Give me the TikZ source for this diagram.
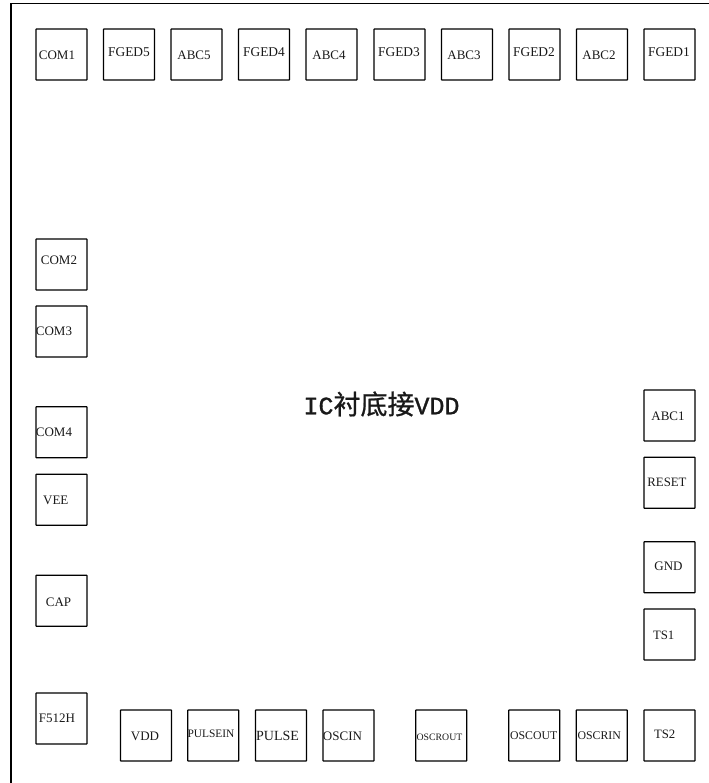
\documentclass[tikz,border=0pt]{standalone}
\usepackage{fontspec}
\setmainfont{Liberation Serif}
\newfontfamily\cjk[FakeBold=0.8]{Noto Sans CJK SC}
\newfontfamily\mono[FakeBold=1.2]{Liberation Mono}
\newcommand{\szfont}[1]{\pgfmathsetmacro{\ptsz}{#1*0.75}\fontsize{\ptsz pt}{\ptsz pt}\selectfont}
\tikzset{
  pinbox/.style={draw=black, line width=0.95pt, minimum width=38.25pt, minimum height=38.25pt, inner sep=0pt, outer sep=0pt, rounded corners=0.4pt, anchor=north west},
  pinlab/.style={inner sep=0pt, outer sep=0pt, text=black!90, anchor=center},
}
\begin{document}
\begin{tikzpicture}[x=0.75pt,y=-0.75pt]
\useasboundingbox (0,0) rectangle (708,783);
\draw[line width=0.95pt] (11,790) -- (11,3.7) -- (720,3.7);
\foreach \n/\x/\y/\t/\tx/\ty/\s in {
 com1/36/29/COM1/57/55/13,
 fgedv/103.5/29/FGED5/129/52.5/13.4,
 abcv/171/29/ABC5/194/55/13,
 fgediv/238.5/29/FGED4/264/52.5/13.4,
 abciv/306/29/ABC4/329/55/13,
 fgediii/374/29/FGED3/399/52.5/13.4,
 abciii/441.5/29/ABC3/464/55/13,
 fgedii/509/29/FGED2/534/52.5/13.4,
 abcii/576.5/29/ABC2/599/55/13,
 fgedi/644/29/FGED1/669/52.5/13.4,
 com2/36/239/COM2/59/260.7/13,
 com3/36/306/COM3/54/331.7/13,
 com4/36/406.7/COM4/54/432.3/13,
 vee/36/474.3/VEE/55.8/500/13,
 cap/36/575.3/CAP/58.5/602/13,
 fvh/36/693/F512H/57/718/13,
 vdd/120.5/710/VDD/145/736/13,
 pulsein/187.7/710/PULSEIN/211/734/11.4,
 pulse/255.5/710/PULSE/277.5/736/14,
 oscin/323/710/OSCIN/342.5/736/13,
 oscrout/415.7/710/OSCROUT/439.5/737.5/9.8,
 oscout/508.7/710/OSCOUT/533.7/736/11.8,
 oscrin/576.3/710/OSCRIN/599.3/736/11.8,
 tsii/644/710/TS2/664.7/734/12.8,
 tsi/644/609/TS1/663.7/635/12.8,
 gnd/644/541.7/GND/668.5/566.7/13,
 reset/644/457.3/RESET/667/482.7/12.8,
 abci/644/390/ABC1/668/416.7/13}
 {\node[pinbox] (\n) at (\x,\y) {};
  \node[pinlab] (\n-label) at (\tx,\ty) {\szfont{\s}\t};}
\node[pinlab] (note) at (381.5,404) {\szfont{25}\mono IC\szfont{27}\cjk 衬底接\szfont{25}\mono VDD};
\end{tikzpicture}
\end{document}
